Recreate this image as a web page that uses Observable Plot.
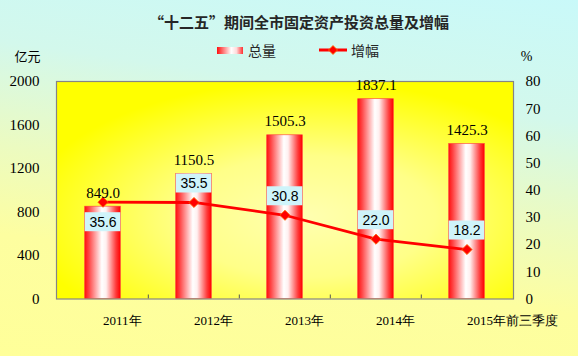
<!DOCTYPE html>
<html><head><meta charset="utf-8">
<script src="https://cdn.jsdelivr.net/npm/d3@7"></script>
<script src="https://cdn.jsdelivr.net/npm/@observablehq/plot@0.6"></script>
<style>
body{margin:0;}
#wrap{position:relative;width:578px;height:356px;overflow:hidden;
  background:linear-gradient(188deg,#c9f9f9 0%,#d3f8ec 28%,#ecfbc0 52%,#fdfea0 72%,#ffff99 100%);}
#title{height:48px;box-sizing:border-box;padding-top:12px;padding-left:20px;text-align:center;
  font:bold 15px "Noto Sans CJK SC",sans-serif;color:#262626;line-height:20px;}
#legend{position:absolute;top:41px;left:0;width:578px;height:18px;font:14px "Noto Sans CJK SC",sans-serif;color:#262626;line-height:18px;}
#legend .it{position:absolute;top:0;}
#legend .sw{position:absolute;top:6px;left:217px;width:26px;height:7px;
  background:linear-gradient(to right,#ff1010 0%,#ff5050 15%,#ffffff 55%,#ffdada 75%,#ff3030 100%);}
#plotHolder svg{display:block;}
</style></head>
<body>
<div id="wrap">
  <div id="title">“十二五”期间全市固定资产投资总量及增幅</div>
  <div id="plotHolder"></div>
  <div id="legend">
    <div class="sw"></div>
    <span class="it" style="left:248px">总量</span>
    <svg class="it" style="left:319px" width="28" height="18"><line x1="0" y1="9" x2="28" y2="9" stroke="#ff0000" stroke-width="3"/><polygon points="14,4.5 18.5,9 14,13.5 9.5,9" fill="#ff0000" stroke="#ff7a00" stroke-width="0.8"/></svg>
    <span class="it" style="left:351px">增幅</span>
  </div>
</div>
<script>
const years = ["2011年","2012年","2013年","2014年","2015年前三季度"];
const totals = [849.0,1150.5,1505.3,1837.1,1425.3];
const growth = [35.6,35.5,30.8,22.0,18.2];
const leftTicks = [0,400,800,1200,1600,2000];
const rightTicks = [0,10,20,30,40,50,60,70,80];

const k = 2000/80; // right axis (0–80 %) mapped onto left axis (0–2000)
const rows = years.map((year,i)=>({year,total:totals[i],growth:growth[i],gy:growth[i]*k,i}));

const W=578,H=308,mL=56,mR=65,mT=33,mB=57.5;
const step=(W-mL-mR)/years.length;
const barW=36, boxW=36;
const serif='"Liberation Serif","Times New Roman",serif';
const sans='"Liberation Sans",Arial,sans-serif';
const cjk='"Noto Sans CJK SC",sans-serif';

const below = rows.filter(d=>d.i===0);
const above = rows.filter(d=>d.i!==0);

const plot = Plot.plot({
  width:W,height:H,marginLeft:mL,marginRight:mR,marginTop:mT,marginBottom:mB,
  style:{background:"transparent",color:"#000",overflow:"visible"},
  x:{type:"band",domain:years,padding:0},
  y:{domain:[0,2000]},
  marks:[
    Plot.frame({fill:"url(#plotBg)"}),
    Plot.barY(rows,{x:"year",y:"total",fill:"url(#barGrad)",stroke:"#ff3a3a",strokeWidth:0.6,
      insetLeft:(step-barW)/2,insetRight:(step-barW)/2}),
    Plot.ruleX(years.slice(1),{x:d=>d,dx:-step/2,y1:0,y2:0,insetTop:-4,stroke:"#555"}),
    Plot.frame({stroke:"#858585",strokeWidth:1.2}),
    Plot.line(rows,{x:"year",y:"gy",stroke:"#ff0000",strokeWidth:2.8}),
    Plot.dot(rows,{x:"year",y:"gy",symbol:"diamond2",r:4.6,fill:"#ff0000",stroke:"#ff6a00",strokeWidth:0.8}),
    Plot.text(rows,{x:"year",y:"total",text:d=>d.total.toFixed(1),lineAnchor:"bottom",dy:-9,
      fontSize:15,fontFamily:serif,fill:"#000"}),
    Plot.barY(below,{x:"year",y1:"gy",y2:"gy",insetLeft:(step-boxW)/2,insetRight:(step-boxW)/2,
      insetTop:-9.5,insetBottom:-9.5,dy:20,fill:"#cff4fa"}),
    Plot.text(below,{x:"year",y:"gy",text:d=>d.growth.toFixed(1),dy:20,fontSize:14,fontFamily:sans,fill:"#000"}),
    Plot.barY(above,{x:"year",y1:"gy",y2:"gy",insetLeft:(step-boxW)/2,insetRight:(step-boxW)/2,
      insetTop:-9.5,insetBottom:-9.5,dy:-19,fill:"#cff4fa"}),
    Plot.text(above,{x:"year",y:"gy",text:d=>d.growth.toFixed(1),dy:-19,fontSize:14,fontFamily:sans,fill:"#000"}),
    Plot.axisY(leftTicks,{anchor:"left",tickSize:0,tickPadding:17,tickFormat:d=>String(d),fontSize:15,fontFamily:serif,label:null}),
    Plot.axisY([],{anchor:"left",label:"亿元",labelAnchor:"top",labelOffset:42,labelArrow:"none",fontSize:13,fontFamily:cjk}),
    Plot.axisY(rightTicks.map(t=>t*k),{anchor:"right",tickSize:0,tickPadding:12,tickFormat:d=>String(d/k),fontSize:15,fontFamily:serif,label:null}),
    Plot.axisY([],{anchor:"right",label:"%",labelAnchor:"top",labelOffset:19,labelArrow:"none",fontSize:14,fontFamily:serif}),
    Plot.axisX({tickSize:0,tickPadding:17,textAnchor:"start",fontSize:13,fontFamily:serif,label:null})
  ]
});

const ns="http://www.w3.org/2000/svg";
const defs=document.createElementNS(ns,"defs");
defs.innerHTML=`
<radialGradient id="plotBg" cx="0.55" cy="0.62" r="0.62">
  <stop offset="0" stop-color="#ffffb0"/>
  <stop offset="0.45" stop-color="#ffff88"/>
  <stop offset="1" stop-color="#ffff00"/>
</radialGradient>
<linearGradient id="barGrad" x1="0" x2="1" y1="0" y2="0">
  <stop offset="0" stop-color="#ff1010"/>
  <stop offset="0.12" stop-color="#ff4646"/>
  <stop offset="0.48" stop-color="#ffffff"/>
  <stop offset="0.6" stop-color="#fff0f0"/>
  <stop offset="0.88" stop-color="#ff3a3a"/>
  <stop offset="1" stop-color="#ff0000"/>
</linearGradient>`;
plot.insertBefore(defs,plot.firstChild);
document.getElementById("plotHolder").appendChild(plot);
</script>
</body></html>
